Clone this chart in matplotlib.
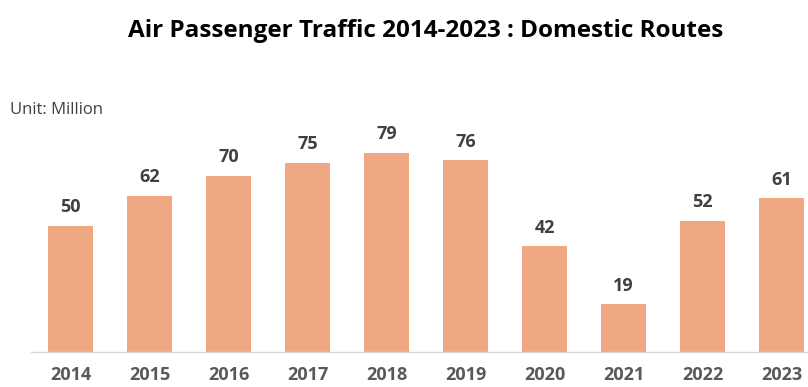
import matplotlib
matplotlib.use("Agg")
import matplotlib.pyplot as plt

years = ["2014", "2015", "2016", "2017", "2018", "2019", "2020", "2021", "2022", "2023"]
passengers = [50, 62, 70, 75, 79, 76, 42, 19, 52, 61]

plt.rcParams["font.family"] = ["Open Sans", "DejaVu Sans"]

W, H = 808, 387
fig = plt.figure(figsize=(W / 100, H / 100), dpi=100)
fig.patch.set_facecolor("white")

ax_left, ax_bottom = 31 / W, 35 / H
ax = fig.add_axes([ax_left, ax_bottom, 1 - ax_left, 252 / H])

x = list(range(len(years)))
ax.bar(x, passengers, width=0.57, color="#F0A882", zorder=2)

for xi, v in zip(x, passengers):
    ax.text(xi, v + 3.8, f"{v}", ha="center", va="bottom",
            fontsize=13, fontweight="bold", color="#404040")

ax.set_xlim(-0.5, (W - 70.5) / 79)
ax.set_ylim(0, 100)
ax.set_xticks(x)
ax.set_xticklabels(years, fontsize=13, fontweight="bold", color="#595959")
ax.tick_params(axis="x", length=0, pad=10)
ax.set_yticks([])
for s in ["top", "right", "left"]:
    ax.spines[s].set_visible(False)
ax.spines["bottom"].set_color("#D9D9D9")
ax.spines["bottom"].set_linewidth(1)

fig.text(426 / W, 1 - 31 / H, "Air Passenger Traffic 2014-2023 : Domestic Routes",
         ha="center", va="center", fontsize=17.5, fontweight="bold", color="black")
fig.text(10 / W, 1 - 110 / H, "Unit: Million", ha="left", va="center",
         fontsize=12, color="#404040")

fig.savefig("out.png", dpi=100, facecolor="white")
